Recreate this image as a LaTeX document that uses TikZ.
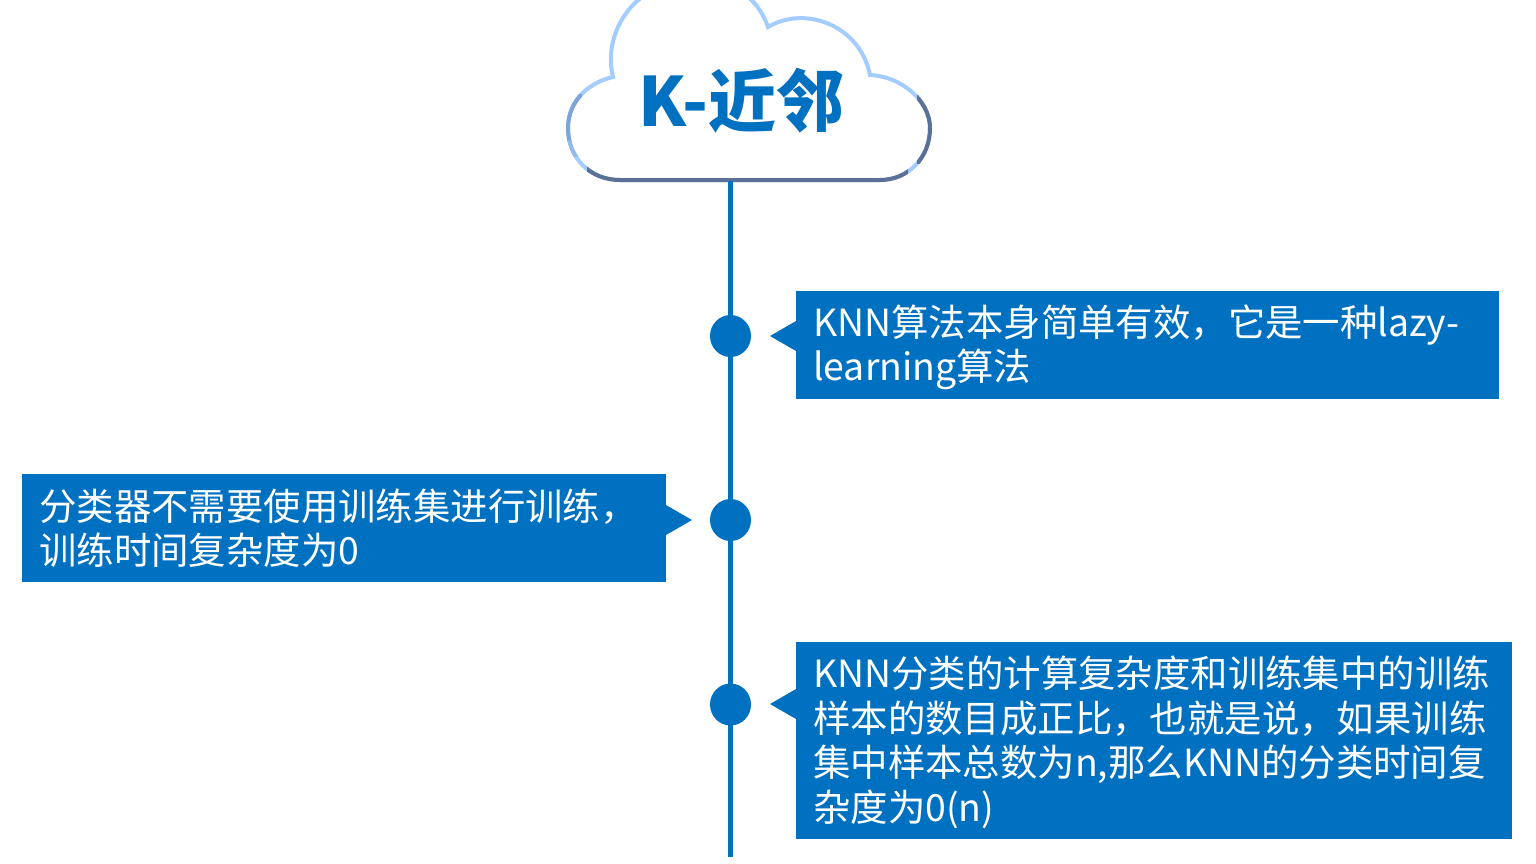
\documentclass[tikz,border=0pt]{standalone}
\usepackage{fontspec}
\setmainfont{Noto Sans CJK SC}
\usetikzlibrary{shapes.geometric}
\definecolor{brand}{HTML}{0070C0}
\definecolor{cloudlight}{HTML}{A3CCFF}
\definecolor{clouddark}{HTML}{5A7096}
\definecolor{cloudmid}{HTML}{7FA5D8}
\definecolor{cloudsoft}{HTML}{92BAEC}
\newcommand{\cloudoutline}{
  (613,77) .. controls (604,40) and (625,5) .. (650,-8)
  .. controls (690,-30) and (750,-25) .. (768,27)
  .. controls (805,5) and (860,25) .. (870,75)
  .. controls (900,76) and (930,100) .. (930,128)
  .. controls (930,158) and (908,180) .. (880,180)
  -- (620,180)
  .. controls (590,180) and (568,158) .. (568,128)
  .. controls (568,100) and (590,82) .. (613,77) -- cycle}
\tikzset{
  card/.style={fill=brand,inner sep=0pt,minimum height=#1},
  cardtext/.style={text=white,font=\fontsize{37.4}{37.4}\selectfont,anchor=base west,inner sep=0pt},
  dot/.style={ellipse,fill=brand,minimum width=41pt,minimum height=42pt,inner sep=0pt},
  spine/.style={draw=brand,line width=5pt},
  cloudedge/.style={line width=4pt,line cap=butt,line join=miter}
}
\begin{document}
\begin{tikzpicture}[x=1pt,y=-1pt]
\useasboundingbox (0,0) rectangle (1536,863);

% Cloud outline, cut off by the top edge of the page
\begin{scope}
\clip (0,0) rectangle (1536,863);
\path[fill=white,draw=cloudlight,cloudedge] \cloudoutline;
\end{scope}
% Darker stretches of the same outline
\begin{scope}
\clip (917,95) rectangle (940,163);
\draw[clouddark,cloudedge] \cloudoutline;
\end{scope}
\begin{scope}
\clip (587,166) rectangle (908,190);
\draw[clouddark,cloudedge] \cloudoutline;
\end{scope}
\begin{scope}
\clip (560,94) rectangle (582,140);
\draw[cloudmid,cloudedge] \cloudoutline;
\end{scope}
\begin{scope}
\clip (560,140) rectangle (582,156);
\draw[cloudsoft,cloudedge] \cloudoutline;
\end{scope}

\node[inner sep=0pt,text=brand,font=\fontsize{68}{68}\selectfont\bfseries,anchor=base] (title) at (741,126) {K-近邻};
\coordinate (cloudfoot) at (730,181);
\coordinate (spineend) at (730,857);
\draw[spine] (cloudfoot) -- (spineend);

% Timeline dots
\node[dot] (d1) at (730.5,336) {};
\node[dot] (d2) at (730.5,520) {};
\node[dot] (d3) at (730.5,704.5) {};

% Callout cards with their pointers
\fill[brand] (796,321) -- (770,336) -- (796,351) -- cycle;
\node[card=108pt,minimum width=703pt,anchor=north west] (c1) at (796,291) {};
\node[cardtext] at (813,336) {KNN算法本身简单有效，它是一种lazy-};
\node[cardtext] at (813,380) {learning算法};

\fill[brand] (666,505) -- (692,520) -- (666,535) -- cycle;
\node[card=108pt,minimum width=644pt,anchor=north west] (c2) at (22,474) {};
\node[cardtext] at (39,520) {分类器不需要使用训练集进行训练，};
\node[cardtext] at (39,564) {训练时间复杂度为0};

\fill[brand] (796,689) -- (770,704) -- (796,719) -- cycle;
\node[card=197pt,minimum width=716pt,anchor=north west] (c3) at (796,642) {};
\node[cardtext] at (813,687) {KNN分类的计算复杂度和训练集中的训练};
\node[cardtext] at (813,732) {样本的数目成正比，也就是说，如果训练};
\node[cardtext] at (813,776) {集中样本总数为n,那么KNN的分类时间复};
\node[cardtext] at (813,821) {杂度为0(n)};
\end{tikzpicture}
\end{document}
